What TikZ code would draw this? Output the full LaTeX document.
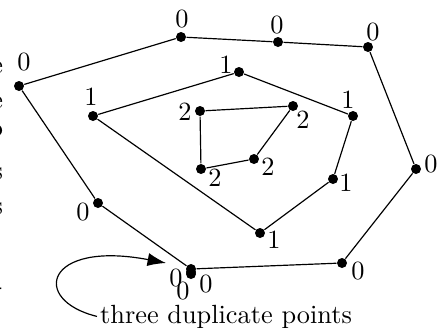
\documentclass[tikz,border=0pt]{standalone}
\usetikzlibrary{arrows.meta}
\begin{document}
\begin{tikzpicture}[x=0.38pt,y=-0.38pt,
  dot/.style={circle,fill=black,inner sep=0pt,minimum size=3.8pt},
  lbl/.style={inner sep=0pt},
  edge/.style={line width=0.45pt}]
\useasboundingbox (0,0) rectangle (439,327);
% cut-off text fragments at the left edge
\begin{scope}
\clip (0,0) rectangle (439,327);
\foreach \ch/\yy in {e/73,e/108,o/136,s/179,s/214,-/294}
  \node[lbl,anchor=base east] at (3.5,\yy) {\ch};
\end{scope}
% outer polygon (depth 0)
\node[dot] (A) at (19,86) {};
\node[dot] (B) at (181,37) {};
\node[dot] (C) at (278,42) {};
\node[dot] (D) at (368,47) {};
\node[dot] (E) at (416,169) {};
\node[dot] (F) at (342,263) {};
\node[dot] (G1) at (191,269) {};
\node[dot] (G2) at (191,272) {};
\node[dot] (G3) at (191,274) {};
\node[dot] (H) at (98,203) {};
\draw[edge] (A) -- (B) -- (C) -- (D) -- (E) -- (F) -- (G1) -- (H) -- (A);
\node[lbl] at (24,62) {0};
\node[lbl] at (182,19) {0};
\node[lbl] at (277,25) {0};
\node[lbl] at (373,32) {0};
\node[lbl] at (431,164) {0};
\node[lbl] at (358,271) {0};
\node[lbl] at (176,278) {0};
\node[lbl] at (183,291) {0};
\node[lbl] at (206,284) {0};
\node[lbl] at (83,212) {0};
% middle polygon (depth 1)
\node[dot] (P1) at (93,116) {};
\node[dot] (P2) at (239,72) {};
\node[dot] (P3) at (353,116) {};
\node[dot] (P4) at (333,179) {};
\node[dot] (P5) at (260,233) {};
\draw[edge] (P1) -- (P2) -- (P3) -- (P4) -- (P5) -- (P1);
\node[lbl] at (91,97) {1};
\node[lbl] at (226,65) {1};
\node[lbl] at (348,100) {1};
\node[lbl] at (346,183) {1};
\node[lbl] at (274,240) {1};
% inner polygon (depth 2)
\node[dot] (Q1) at (200,111) {};
\node[dot] (Q2) at (293,106) {};
\node[dot] (Q3) at (254,159) {};
\node[dot] (Q4) at (201,169) {};
\draw[edge] (Q1) -- (Q2) -- (Q3) -- (Q4) -- (Q1);
\node[lbl] at (185,112) {2};
\node[lbl] at (303,120) {2};
\node[lbl] at (268,167) {2};
\node[lbl] at (215,178) {2};
% annotation
\node[inner sep=1pt,anchor=base west] (txt) at (97,323) {three duplicate points};
\coordinate (tip) at (166,263);
\draw[edge,-{Latex[length=7pt,width=5pt]}] (txt.west) .. controls (30,300) and (45,240) .. (tip);
\end{tikzpicture}
\end{document}
